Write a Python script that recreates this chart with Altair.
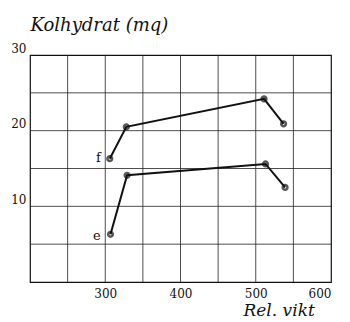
import altair as alt
import pandas as pd

series = ["f", "f", "f", "f", "e", "e", "e", "e"]
rel_vikt = [306, 328, 511, 537, 307, 329, 513, 539]
kolhydrat = [16.3, 20.5, 24.2, 20.9, 6.3, 14.1, 15.6, 12.5]
order = [1, 2, 3, 4, 1, 2, 3, 4]

label_text = ["f", "e"]
label_x = [294, 294]
label_y = [16.4, 6.1]

x_grid = [250, 300, 350, 400, 450, 500, 550]
y_grid = [5, 10, 15, 20, 25]
x_ticks = [300, 400, 500, 600]
y_ticks = [10, 20, 30]

df = pd.DataFrame({"s": series, "x": rel_vikt, "y": kolhydrat, "o": order})
lab = pd.DataFrame({"t": label_text, "x": label_x, "y": label_y})
gx = pd.DataFrame({"x": x_grid})
gy = pd.DataFrame({"y": y_grid})

xs = alt.Scale(domain=[200, 600], nice=False, zero=False)
ys = alt.Scale(domain=[0, 30], nice=False)

font = "DejaVu Serif"

xaxis = alt.Axis(values=x_ticks, grid=False, ticks=False, domain=False,
                 labelFont=font, labelFontSize=12, labelColor="#111", labelPadding=6,
                 title="Rel. vikt", titleFont=font, titleFontStyle="italic",
                 titleFontWeight="normal", titleFontSize=17, titleColor="#111",
                 titleX=213, titleY=20, titleAlign="left")
yaxis = alt.Axis(values=y_ticks, grid=False, ticks=False, domain=False,
                 labelFont=font, labelFontSize=12, labelColor="#111", labelPadding=4,
                 labelBaseline="bottom",
                 title="Kolhydrat (mq)", titleFont=font, titleFontStyle="italic",
                 titleFontWeight="normal", titleFontSize=18, titleColor="#111",
                 titleAngle=0, titleX=0, titleY=-21, titleAlign="left")

vgrid = alt.Chart(gx).mark_rule(color="#222", strokeWidth=0.8).encode(
    x=alt.X("x:Q", scale=xs, axis=xaxis))
hgrid = alt.Chart(gy).mark_rule(color="#222", strokeWidth=0.8).encode(
    y=alt.Y("y:Q", scale=ys, axis=yaxis))

lines = alt.Chart(df).mark_line(color="#111", strokeWidth=2).encode(
    x=alt.X("x:Q", scale=xs),
    y=alt.Y("y:Q", scale=ys),
    detail="s:N", order="o:Q")

pts = alt.Chart(df).mark_point(filled=False, color="#111", strokeWidth=2.5, size=22,
                               shape="circle").encode(
    x=alt.X("x:Q", scale=xs), y=alt.Y("y:Q", scale=ys))

txt = alt.Chart(lab).mark_text(font=font, fontSize=13, color="#111", align="right",
                               baseline="middle").encode(
    x=alt.X("x:Q", scale=xs), y=alt.Y("y:Q", scale=ys), text="t:N")

chart = (vgrid + hgrid + lines + pts + txt).properties(
    width=301, height=227,
    autosize=alt.AutoSizeParams(type="none"),
    padding={"left": 30, "top": 55, "right": 19, "bottom": 40},
    background="white",
).configure_view(stroke="#111", strokeWidth=1.2)

chart.save("out.html", embed_options={"renderer": "svg", "actions": False})
